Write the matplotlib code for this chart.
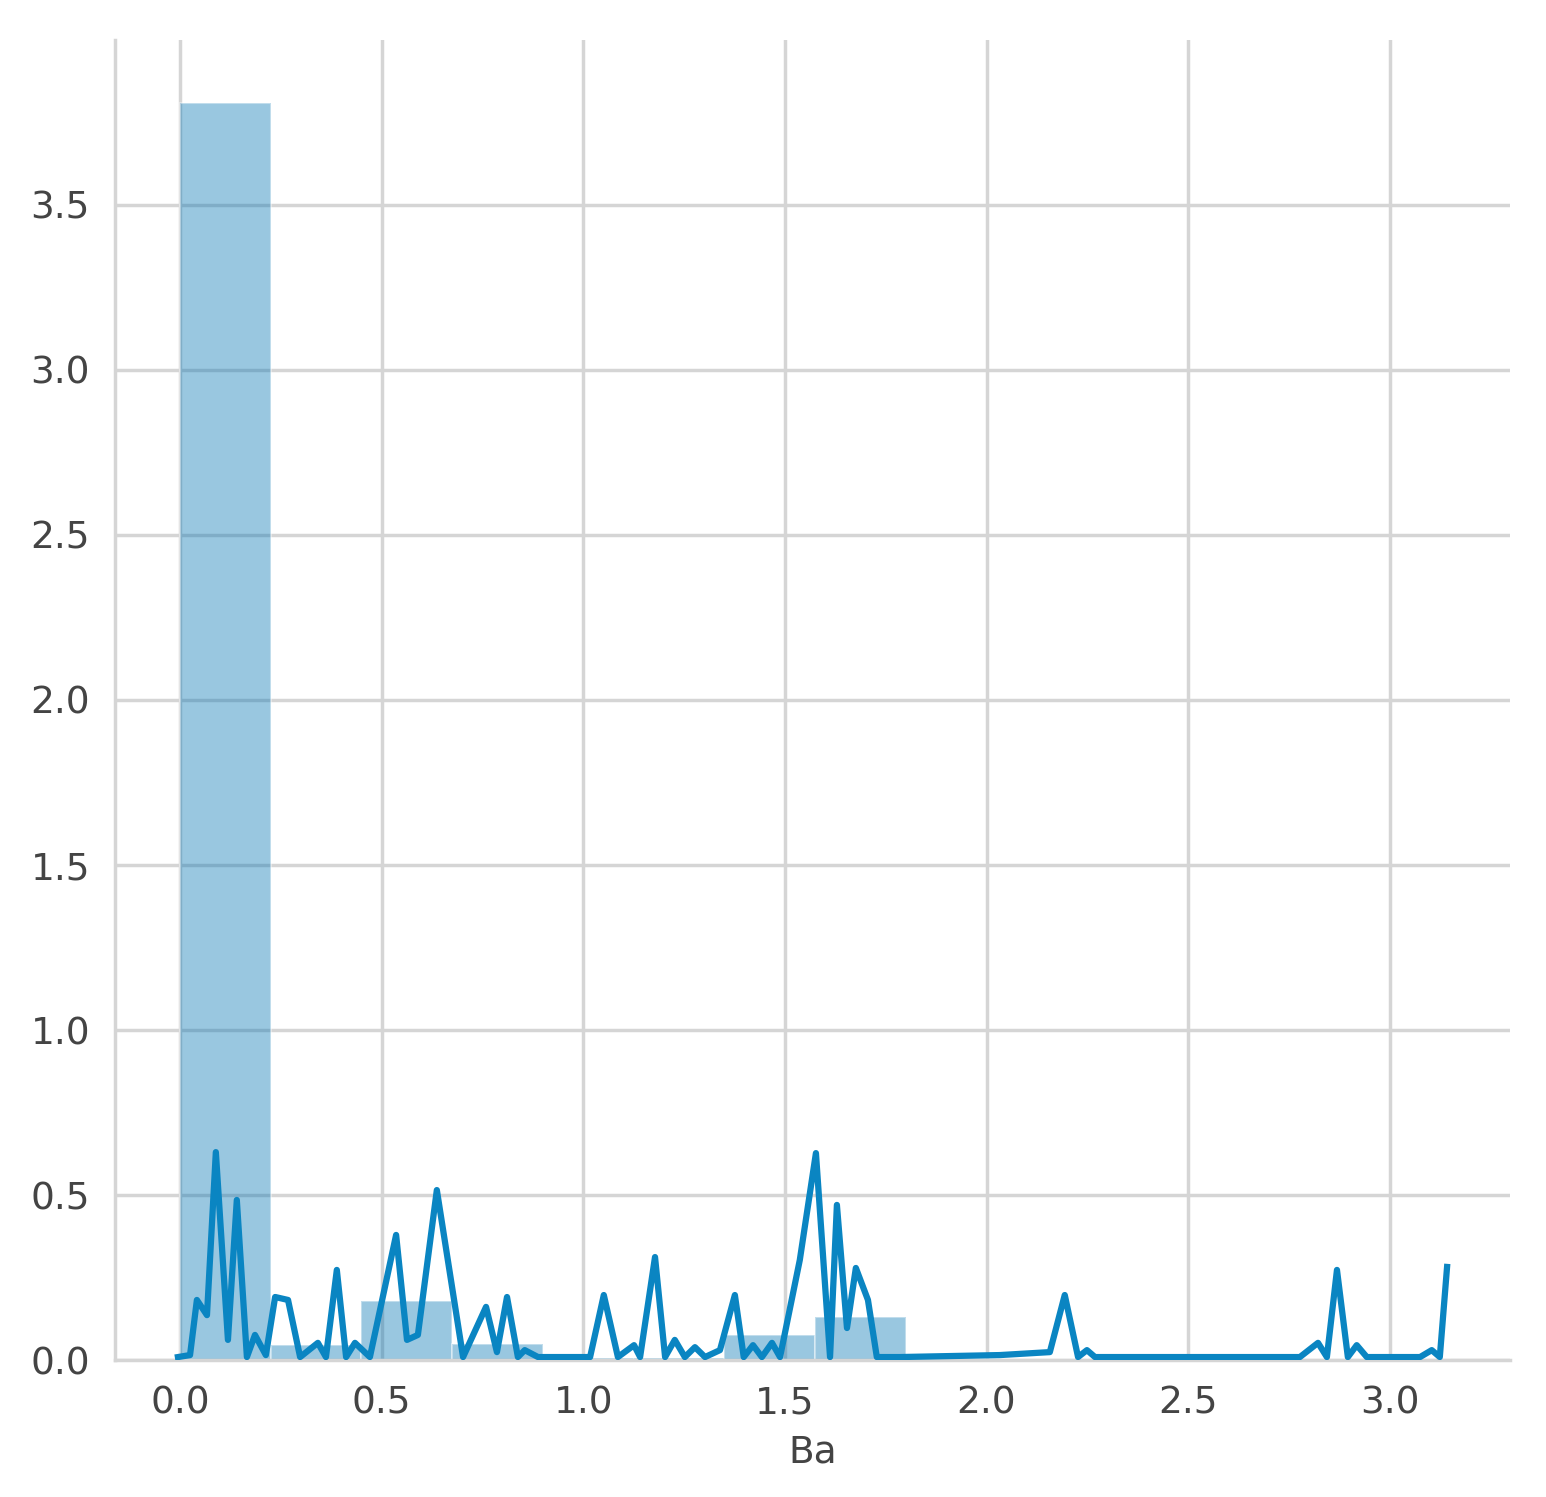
import matplotlib
matplotlib.use("Agg")
import matplotlib.pyplot as plt
import numpy as np

bin_edges = [0.0,0.225,0.45,0.675,0.9,1.125,1.35,1.575,1.8,2.025,2.25,2.475,2.7,2.925,3.15]
bar_heights = [3.81,0.045,0.18,0.05,0.005,0.005,0.075,0.13,0.004,0.002,0.002,0.002,0.002,0.004]

px = [178,190,197,207,216,228,237,247,255,266,275,288,300,318,326,337,346,355,370,396,407,418,437,463,486,497,507,518,525,538,590,604,618,634,640,655,665,675,685,695,705,720,735,744,753,762,772,780,800,816,830,837,847,856,868,877,900,1000,1050,1065,1078,1087,1095,1300,1318,1327,1337,1348,1357,1367,1420,1432,1440,1447]
py = [1357,1355,1300,1315,1152,1340,1200,1357,1335,1355,1297,1300,1357,1343,1357,1270,1357,1343,1357,1235,1340,1335,1190,1357,1307,1352,1297,1357,1350,1357,1357,1295,1357,1345,1357,1257,1357,1340,1357,1347,1357,1350,1295,1357,1345,1357,1343,1357,1260,1153,1357,1205,1328,1268,1300,1357,1357,1355,1352,1295,1357,1350,1357,1357,1343,1357,1270,1357,1345,1357,1357,1350,1357,1267]
kde_x = [round((p-180)/403.3,3) for p in px]
kde_y = [round((1360-p)/330,3) for p in py]

fig = plt.figure(figsize=(15.46,14.97), dpi=100)
ax = fig.add_axes([0.0744,0.0915,0.9023,0.8818])
ax.bar(bin_edges[:-1], bar_heights, width=np.diff(bin_edges), align='edge',
       color='#0173B2', alpha=0.4, edgecolor='white', linewidth=1.5, zorder=2)
ax.plot(kde_x, kde_y, color='#0a85c2', linewidth=4.5, zorder=3)
ax.set_xlim(-0.161,3.298)
ax.set_ylim(0,4.0)
ax.set_xticks([0,0.5,1.0,1.5,2.0,2.5,3.0])
ax.set_yticks([0,0.5,1.0,1.5,2.0,2.5,3.0,3.5])
ax.grid(True, color='#d5d5d5', linewidth=2.5, zorder=0)
ax.set_axisbelow(True)
for s in ['top','right']:
    ax.spines[s].set_visible(False)
for s in ['bottom','left']:
    ax.spines[s].set_color('#d5d5d5')
    ax.spines[s].set_linewidth(2.5)
ax.tick_params(length=0, labelsize=27, labelcolor='#444444', pad=18)
ax.set_xlabel('Ba', fontsize=27, color='#444444', labelpad=10)
fig.savefig('out.png', dpi=100, facecolor='white')
